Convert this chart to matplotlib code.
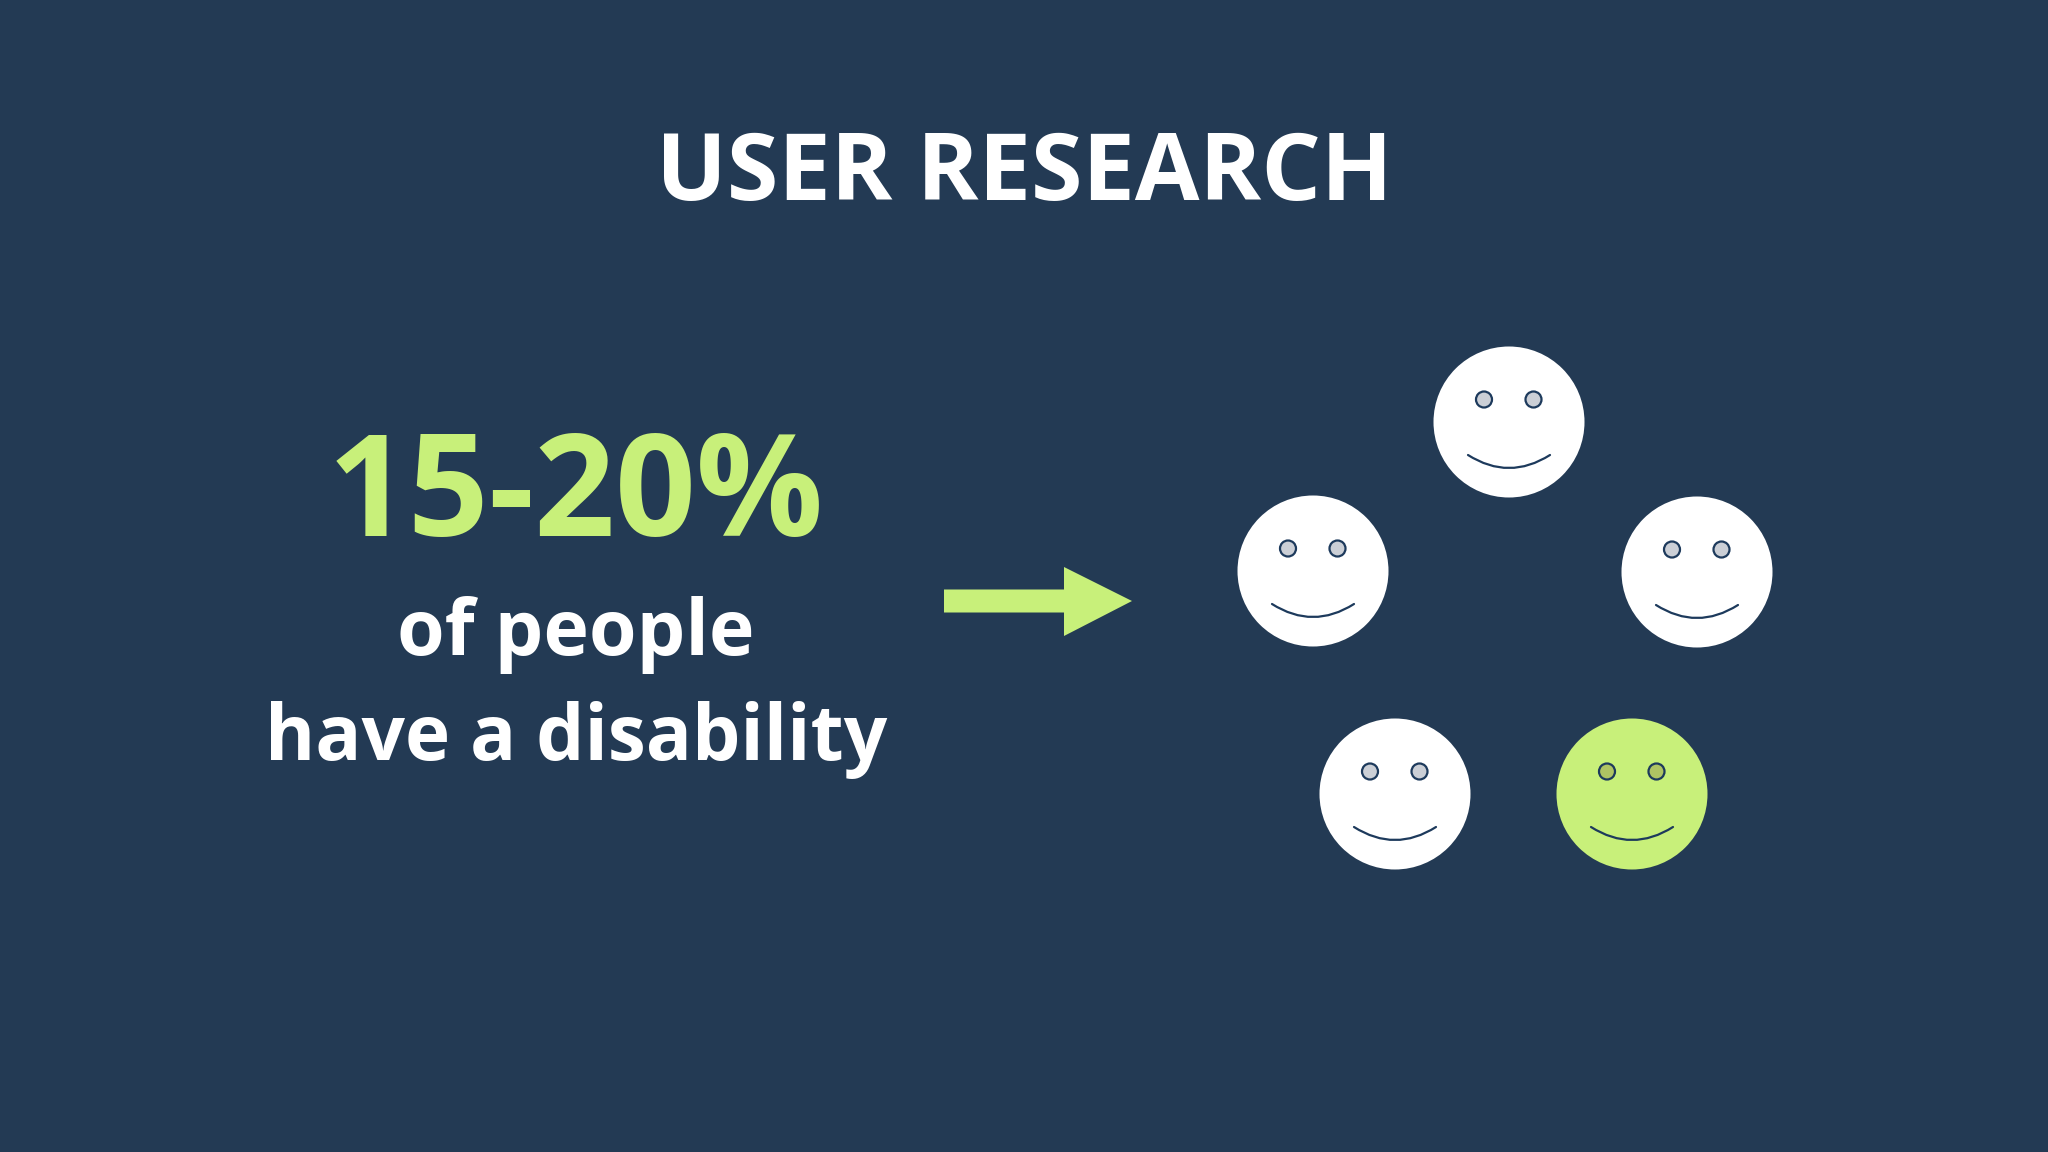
import matplotlib
matplotlib.use("Agg")
import matplotlib.pyplot as plt
from matplotlib.patches import Circle, Polygon, PathPatch
from matplotlib.path import Path

BG = "#233a54"
GREEN = "#c8f07a"
WHITE = "#ffffff"
INK = "#1d3a5c"

title = "USER RESEARCH"
big_number = "15-20%"
line_one = "of people"
line_two = "have a disability"

# faces: x, y centre in pixels of the slide
face_x = [1509, 1313, 1697, 1395, 1632]
face_y = [422, 571, 572, 794, 794]
face_col = [WHITE, WHITE, WHITE, WHITE, GREEN]
eye_col = ["#cbcfd6", "#cbcfd6", "#cbcfd6", "#cbcfd6", "#afc463"]


def px(size):
    return size * 72 / 100


def draw_face(ax, x, y, col, eye):
    ax.add_patch(Circle((x, y), 75.5, fc=col, ec="none"))
    for dx in (-25, 24.5):
        ax.add_patch(Circle((x + dx, y - 22.5), 8, fc=eye, ec=INK, lw=1.6))
    verts = [(x - 41, y + 33), (x, y + 59), (x + 41, y + 33)]
    codes = [Path.MOVETO, Path.CURVE3, Path.CURVE3]
    ax.add_patch(PathPatch(Path(verts, codes), fc="none", ec=INK, lw=1.6, capstyle="round"))


fig = plt.figure(figsize=(20.48, 11.52), dpi=100, facecolor=BG)
ax = fig.add_axes([0, 0, 1, 1])
ax.set_xlim(0, 2048)
ax.set_ylim(1152, 0)
ax.axis("off")

font = "Open Sans"
ax.text(1024, 200, title, color=WHITE, family=font, weight="bold", fontsize=px(93.6),
        ha="center", va="baseline")
ax.text(576, 536, big_number, color=GREEN, family=font, weight="bold", fontsize=px(141.5),
        ha="center", va="baseline")
ax.text(576, 655, line_one, color=WHITE, family=font, weight="bold", fontsize=px(77),
        ha="center", va="baseline")
ax.text(576.5, 760, line_two, color=WHITE, family=font, weight="bold", fontsize=px(76.5),
        ha="center", va="baseline")

ax.add_patch(Polygon([(944, 589.5), (1064, 589.5), (1064, 567), (1132, 601),
                      (1064, 636), (1064, 612.5), (944, 612.5)], fc=GREEN, ec="none"))

for i in range(len(face_x)):
    draw_face(ax, face_x[i], face_y[i], face_col[i], eye_col[i])

fig.savefig("out.png", dpi=100, facecolor=BG)
